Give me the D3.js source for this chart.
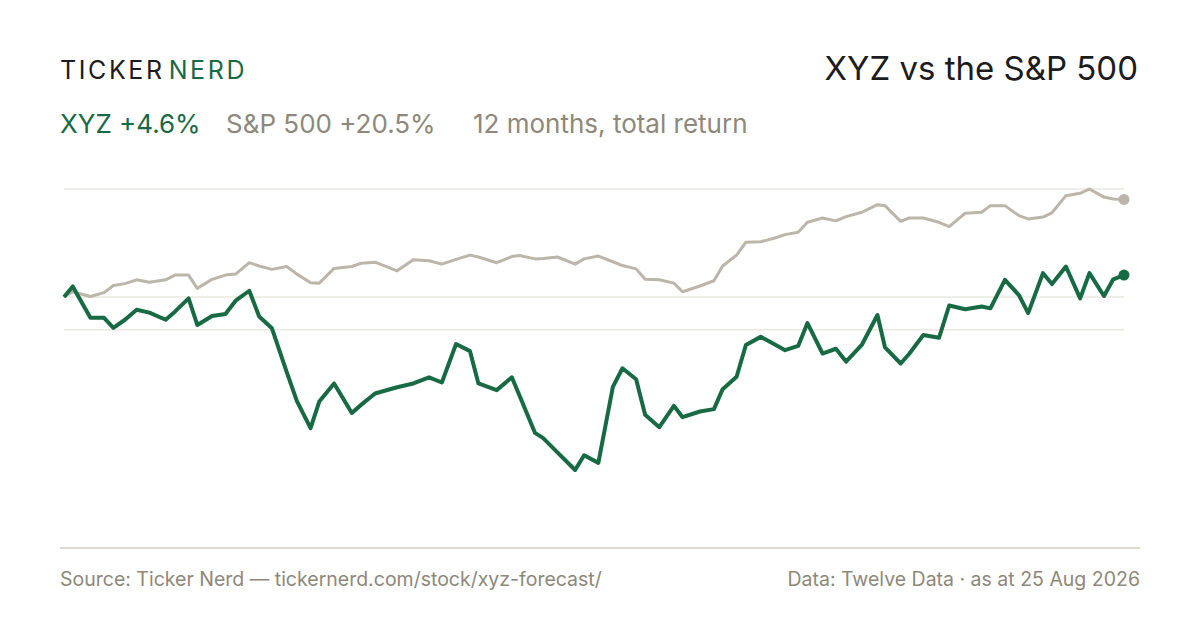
<!DOCTYPE html>
<html>
<head>
<meta charset="utf-8">
<script src="https://cdn.jsdelivr.net/npm/d3@7"></script>
<style>
  html, body { margin: 0; padding: 0; background: #ffffff; }
  svg { display: block; font-family: Inter, "Noto Sans", sans-serif; }
</style>
</head>
<body>
<div id="chart"></div>
<script>
// days since the start of the 12 month window
var days = [0, 3.0, 9.1, 13.8, 17.0, 21.0, 25.0, 29.4, 35.0, 38.2,
  42.9, 45.9, 51.0, 55.6, 59.1, 63.8, 67.2, 71.6, 76.7, 80.2,
  84.9, 87.9, 93.0, 99.1, 102.5, 107.1, 114.7, 120.3, 125.7, 130.1,
  135.0, 139.8, 142.7, 149.0, 154.2, 156.8, 162.2, 165.0, 169.9, 176.0,
  179.1, 184.0, 189.0, 192.3, 197.0, 200.1, 205.0, 210.0, 213.0, 219.0,
  223.8, 226.8, 231.6, 234.8, 239.9, 244.8, 248.3, 252.8, 256.0, 261.2,
  265.8, 269.3, 274.7, 280.1, 282.7, 288.1, 291.0, 295.9, 301.3, 304.8,
  310.3, 316.0, 319.0, 324.0, 328.8, 332.0, 337.1, 340.2, 345.0, 349.9,
  353.1, 358.1, 361.3, 365];

// total return, %
var xyz = [0, 2.2, -4.4, -4.4, -6.5, -4.8, -2.7, -3.3, -4.8, -3.1,
  -0.3, -5.9, -4.0, -3.6, -0.8, 1.3, -4.1, -6.6, -15.8, -21.9,
  -27.6, -22.0, -18.2, -24.4, -22.6, -20.3, -19.0, -18.2, -16.9, -18.0,
  -9.9, -11.4, -18.2, -19.6, -16.9, -20.7, -28.6, -29.7, -32.7, -36.4,
  -33.3, -34.9, -18.9, -15.0, -17.3, -24.8, -27.4, -22.9, -25.3, -24.1,
  -23.6, -19.4, -16.8, -10.1, -8.4, -10.0, -11.2, -10.3, -5.5, -11.9,
  -10.9, -13.6, -10.1, -3.8, -10.6, -14.0, -12.0, -8.0, -8.6, -1.8,
  -2.6, -2.0, -2.4, 3.6, 0.4, -3.4, 5.0, 2.7, 6.4, -0.3,
  5.0, 0.2, 3.7, 4.6];

var spx = [0, 1.1, 0.1, 0.9, 2.4, 2.8, 3.6, 3.1, 3.6, 4.6,
  4.6, 1.8, 3.7, 4.6, 4.8, 7.2, 6.5, 5.8, 6.4, 4.8,
  3.0, 2.9, 6.0, 6.4, 7.1, 7.3, 5.5, 7.8, 7.6, 6.9,
  7.9, 8.8, 8.4, 7.2, 8.5, 8.7, 8.0, 8.1, 8.4, 6.9,
  8.0, 8.6, 7.4, 6.6, 5.9, 3.7, 3.6, 2.9, 1.1, 2.3,
  3.4, 6.5, 8.8, 11.5, 11.6, 12.4, 13.1, 13.6, 15.7, 16.6,
  16.0, 16.9, 17.8, 19.4, 19.2, 15.9, 16.6, 16.6, 15.7, 14.8,
  17.6, 17.8, 19.2, 19.2, 17.1, 16.4, 16.8, 17.7, 21.3, 21.8,
  22.7, 21.0, 20.6, 20.5];

var gridValues = [22.7, 0, -6.9];

var brandParts = ["TICKER", "NERD"];
var titleText = "XYZ vs the S&P 500";
var legendTexts = ["XYZ +4.6%", "S&P 500 +20.5%", "12 months, total return"];
var sourceText = "Source: Ticker Nerd \u2014 tickernerd.com/stock/xyz-forecast/";
var dataText = "Data: Twelve Data \u00b7 as at 25 Aug 2026";

var width = 1200, height = 630;
var green = "#176a43", sand = "#bcb5a9", muted = "#8d8879", ink = "#1c1c1c";

var svg = d3.select("#chart").append("svg")
    .attr("width", width)
    .attr("height", height);

var x = d3.scaleLinear().domain([0, 365]).range([64, 1124]);
var y = d3.scaleLinear().domain([-36.4, 22.7]).range([470, 189]);

// gridlines
svg.append("g").selectAll("line")
    .data(gridValues)
    .enter().append("line")
    .attr("x1", x(0))
    .attr("x2", x(365))
    .attr("y1", function(d) { return y(d); })
    .attr("y2", function(d) { return y(d); })
    .style("stroke", "#ebe8e1")
    .style("stroke-width", 1.5);

// bottom rule
svg.append("line")
    .attr("x1", 60).attr("x2", 1140)
    .attr("y1", 548).attr("y2", 548)
    .style("stroke", "#dedacf")
    .style("stroke-width", 2);

var line = d3.line()
    .x(function(d, i) { return x(days[i]); })
    .y(function(d) { return y(d); });

svg.append("path")
    .datum(spx)
    .attr("d", line)
    .style("fill", "none")
    .style("stroke", sand)
    .style("stroke-width", 3)
    .style("stroke-linejoin", "round");

svg.append("path")
    .datum(xyz)
    .attr("d", line)
    .style("fill", "none")
    .style("stroke", green)
    .style("stroke-width", 4)
    .style("stroke-linejoin", "round");

var last = days.length - 1;
svg.append("circle")
    .attr("cx", x(days[last])).attr("cy", y(spx[last])).attr("r", 5.5)
    .style("fill", sand);
svg.append("circle")
    .attr("cx", x(days[last])).attr("cy", y(xyz[last])).attr("r", 5.5)
    .style("fill", green);

// header
var brand = svg.append("text")
    .attr("x", 60).attr("y", 79)
    .attr("font-size", 25)
    .attr("letter-spacing", 2.6);
brand.append("tspan").attr("fill", ink).text(brandParts[0]);
brand.append("tspan").attr("fill", green).attr("dx", 4).text(brandParts[1]);

svg.append("text")
    .attr("x", 1138).attr("y", 80)
    .attr("text-anchor", "end")
    .attr("font-size", 33)
    .attr("fill", ink)
    .text(titleText);

var legendX = [60, 226, 473];
var legendFill = [green, muted, muted];
svg.append("g").selectAll("text")
    .data(legendTexts)
    .enter().append("text")
    .attr("x", function(d, i) { return legendX[i]; })
    .attr("y", 133)
    .attr("font-size", 26)
    .attr("fill", function(d, i) { return legendFill[i]; })
    .text(function(d) { return d; });

// footer
svg.append("text")
    .attr("x", 60).attr("y", 586)
    .attr("font-size", 19.5)
    .attr("fill", muted)
    .text(sourceText);

svg.append("text")
    .attr("x", 1140).attr("y", 586)
    .attr("text-anchor", "end")
    .attr("font-size", 19.5)
    .attr("fill", muted)
    .text(dataText);
</script>
</body>
</html>
